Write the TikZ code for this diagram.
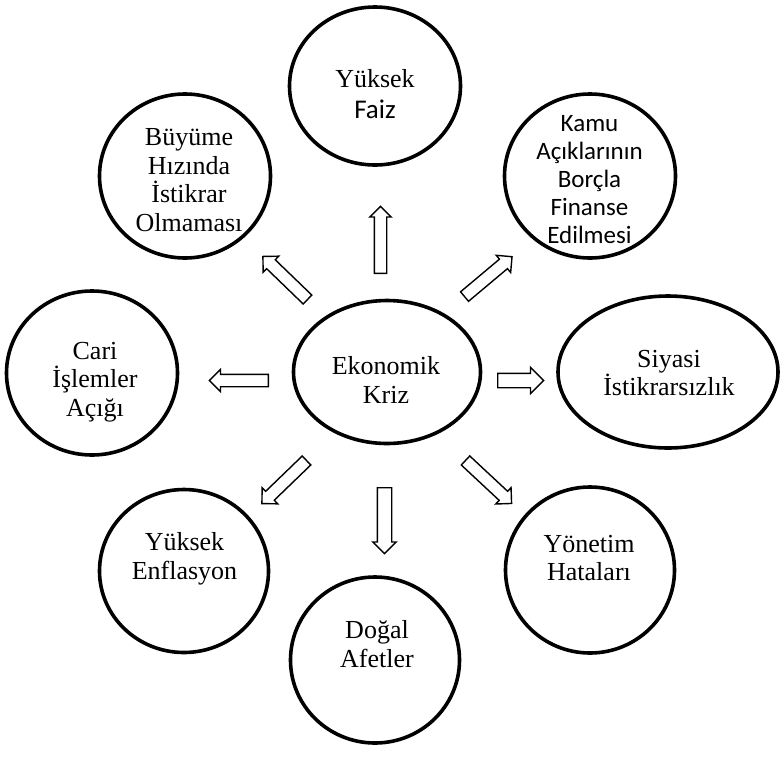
\documentclass[tikz,border=0pt]{standalone}
\usepackage{fontspec}
\setmainfont{Liberation Serif}
\newfontfamily\calibri{Carlito}
\usetikzlibrary{shapes.geometric,shapes.arrows}

\tikzset{
  bubble/.style={draw, ellipse, line width=3.6pt, inner sep=0pt},
  label/.style={align=center, inner sep=0pt, font=\fontsize{26}{28.5}\selectfont},
  blockarrow/.style={draw, single arrow, line width=1.4pt, fill=white,
    anchor=tail, inner xsep=0pt, single arrow tip angle=90,
    single arrow head indent=0pt},
}

\begin{document}
\begin{tikzpicture}[x=1pt, y=-1pt]
\useasboundingbox (0,0) rectangle (782,756);

% surrounding causes and the central crisis
\node[bubble, minimum width=171, minimum height=158] (faiz)   at (375,86)  {};
\node[bubble, minimum width=171, minimum height=164] (kamu)   at (590,176) {};
\node[bubble, minimum width=171, minimum height=164] (buyume) at (185,176) {};
\node[bubble, minimum width=171, minimum height=164] (cari)   at (92,373)  {};
\node[bubble, minimum width=187, minimum height=143] (kriz)   at (387,372) {};
\node[bubble, minimum width=220, minimum height=152] (siyasi) at (668,372) {};
\node[bubble, minimum width=169, minimum height=163] (enf)    at (184,571) {};
\node[bubble, minimum width=169, minimum height=166] (dogal)  at (375,660) {};
\node[bubble, minimum width=169, minimum height=166] (yonetim) at (590,570) {};

% texts
\node[label] (faizT) at (375,94) {Yüksek\\[2pt]{\calibri\fontsize{27}{30}\selectfont Faiz}};
\node[label, font=\calibri\fontsize{25}{28}\selectfont] (kamuT) at (589.5,180)
  {Kamu\\Açıklarının\\Borçla\\Finanse\\Edilmesi};
\node[label] (buyumeT) at (189,180) {Büyüme\\Hızında\\İstikrar\\Olmaması};
\node[label] (cariT) at (95,382) {Cari\\İşlemler\\Açığı};
\node[label] (krizT) at (386,380) {Ekonomik\\Kriz};
\node[label] (siyasiT) at (669,373) {Siyasi\\İstikrarsızlık};
\node[label] (enfT) at (184.5,559) {Yüksek\\Enflasyon};
\node[label] (dogalT) at (377,644) {Doğal\\Afetler};
\node[label] (yonetimT) at (589,558) {Yönetim\\Hataları};

% hollow block arrows pointing outward from the crisis
\node[blockarrow, rotate=90,  minimum height=67, inner ysep=5.5pt, single arrow head extend=4.5pt] (aFaiz) at (380.5,274) {};
\node[blockarrow, rotate=-90, minimum height=66, inner ysep=6.5pt, single arrow head extend=4.5pt] (aDogal) at (384.5,487) {};
\node[blockarrow, rotate=180, minimum height=59, inner ysep=5.5pt, single arrow head extend=5pt] (aCari) at (269,380.5) {};
\node[blockarrow, rotate=0,   minimum height=46, inner ysep=6.5pt, single arrow head extend=6pt] (aSiyasi) at (497,380.5) {};
\node[blockarrow, rotate=136, minimum height=62, inner ysep=5.5pt, single arrow head extend=5pt] (aBuyume) at (308,300) {};
\node[blockarrow, rotate=40,  minimum height=62, inner ysep=5.5pt, single arrow head extend=5pt] (aKamu) at (464,297) {};
\node[blockarrow, rotate=224, minimum height=62, inner ysep=5.5pt, single arrow head extend=5pt] (aEnf) at (307,460) {};
\node[blockarrow, rotate=-43, minimum height=63, inner ysep=5.5pt, single arrow head extend=5pt] (aYonetim) at (465,460) {};
\end{tikzpicture}
\end{document}
